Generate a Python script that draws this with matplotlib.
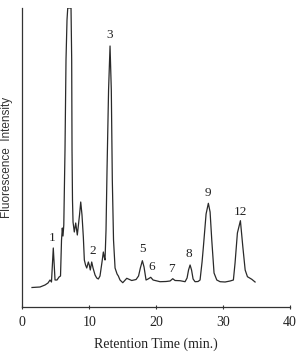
import matplotlib
matplotlib.use("Agg")
import matplotlib.pyplot as plt

# Chromatogram trace: retention time (min) and fluorescence intensity (arb. units)
time_min = [1.45, 2.65, 3.39, 3.84, 4.14, 4.36, 4.63, 4.89, 5.19, 5.49, 5.71, 5.86, 5.98, 6.08, 6.20,
            6.38, 6.53, 6.68, 6.79, 7.28, 7.38, 7.43, 7.50, 7.58, 7.77, 7.98, 8.22, 8.55, 8.73, 8.92,
            9.12, 9.27, 9.45, 9.63, 9.87, 10.01, 10.16, 10.37, 10.57, 10.87, 11.12, 11.36, 11.61, 11.91,
            12.11, 12.24, 12.36, 12.51, 12.66, 12.89, 13.11, 13.30, 13.45, 13.63, 13.86, 14.16, 14.35,
            14.60, 15.01, 15.61, 16.35, 17.00, 17.37, 17.64, 17.94, 18.19, 18.49, 18.79, 19.19, 19.54,
            20.58, 21.48, 22.08, 22.48, 22.82, 23.57, 24.32, 24.62, 24.84, 25.07, 25.29, 25.52, 25.81,
            26.26, 26.56, 26.86, 27.06, 27.46, 27.80, 28.06, 28.31, 28.65, 29.06, 29.55, 30.30, 31.05,
            31.54, 31.79, 32.14, 32.59, 32.95, 33.30, 33.64, 34.29, 34.78]
intensity = [19.2, 19.7, 21.7, 23.7, 26.7, 24.7, 58.7, 26.7, 26.7, 29.7, 30.7, 66.7, 78.7, 70.7, 81.7,
             156.7, 246.7, 286.7, 298.7, 298.7, 246.7, 156.7, 106.7, 84.7, 74.7, 83.7, 71.7, 91.7, 104.7, 91.7,
             69.7, 46.7, 41.7, 38.7, 44.7, 41.7, 36.7, 44.7, 38.7, 31.7, 28.7, 27.7, 30.7, 44.7,
             54.7, 49.7, 46.7, 76.7, 136.7, 216.7, 260.7, 216.7, 126.7, 66.7, 38.7, 32.7, 30.7,
             26.7, 24.0, 28.4, 26.2, 27.2, 30.7, 38.7, 46.0, 39.7, 26.7, 27.7, 29.4, 26.7,
             25.0, 25.2, 25.7, 28.0, 26.2, 26.0, 25.0, 28.7, 36.7, 41.7, 36.7, 27.7, 25.0,
             25.2, 26.7, 44.7, 60.0, 92.7, 103.4, 94.7, 66.7, 33.7, 26.7, 25.0, 24.7, 25.7,
             26.7, 43.7, 73.7, 86.0, 60.0, 36.7, 30.0, 27.4, 24.7]

# Peak labels
peak_names = ["1", "2", "3", "5", "6", "7", "8", "9", "12"]
peak_label_t = [4.48, 10.46, 13.11, 17.94, 19.34, 22.33, 24.92, 27.80, 32.54]
peak_label_i = [68.4, 55.2, 271.7, 57.4, 40.0, 37.4, 52.4, 114.0, 95.0]

xticks = [0, 10, 20, 30, 40]

W, H = 298, 353
fig = plt.figure(figsize=(W / 100, H / 100), dpi=100)
ax = fig.add_axes([22.3 / W, 1 - 306.7 / H, (290 - 22.3) / W, (306.7 - 8) / H])

ax.plot(time_min, intensity, color="#2a2a2a", lw=0.9, solid_joinstyle="round")
ax.set_xlim(0, 40)
ax.set_ylim(0, 298.7)

serif = ["Liberation Serif", "DejaVu Serif"]
for name, t, i in zip(peak_names, peak_label_t, peak_label_i):
    ax.text(t, i, name, ha="center", va="center", fontsize=9.5, family=serif, color="#222222")

ax.spines["top"].set_visible(False)
ax.spines["right"].set_visible(False)
for s in ("left", "bottom"):
    ax.spines[s].set_linewidth(0.9)
    ax.spines[s].set_color("#333333")
ax.set_yticks([])
ax.set_xticks(xticks)
ax.set_xticklabels([str(v) for v in xticks], family=serif, fontsize=10, color="#222222")
ax.tick_params(axis="x", direction="inout", length=3, width=0.8, pad=5, color="#333333")
ax.set_xlabel("Retention Time (min.)", family=serif, fontsize=10, color="#222222", labelpad=6)

fig.text(1 / W, 1 - 157.5 / H, "Fluorescence  Intensity", rotation=90, ha="left", va="center",
         fontsize=8.5, family=["Liberation Sans", "DejaVu Sans"], color="#333333")

fig.savefig("out.png", dpi=100)
